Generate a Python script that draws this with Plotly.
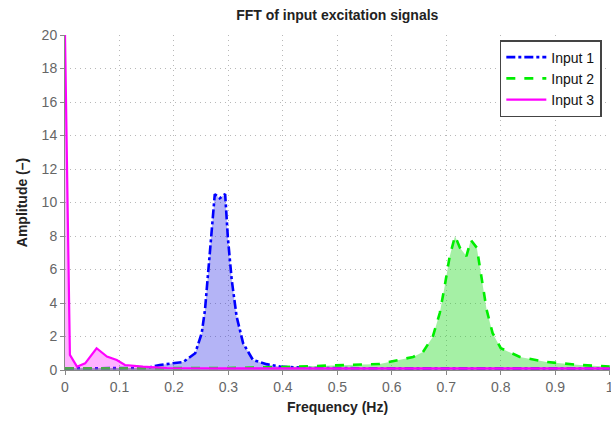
import plotly.graph_objects as go

# Spectral amplitude of each excitation input
freq1 = [0.0, 0.02, 0.05, 0.10, 0.15, 0.174, 0.20, 0.217, 0.239, 0.251, 0.257, 0.263, 0.270,
         0.275, 0.284, 0.294, 0.299, 0.306, 0.315, 0.327, 0.345, 0.370, 0.395, 0.45, 0.60, 0.80, 1.0]
amp1 = [0.1, 0.1, 0.1, 0.1, 0.12, 0.3, 0.4, 0.48, 1.0, 2.2, 3.6, 6.0, 8.5,
        10.5, 10.25, 10.5, 7.9, 5.4, 3.2, 1.6, 0.6, 0.35, 0.2, 0.12, 0.1, 0.1, 0.1]

freq2 = [0.0, 0.10, 0.20, 0.30, 0.40, 0.45, 0.50, 0.578, 0.639, 0.657, 0.675, 0.688, 0.697, 0.706,
         0.716, 0.725, 0.737, 0.745, 0.756, 0.765, 0.774, 0.785, 0.80, 0.835, 0.884, 0.945, 1.0]
amp2 = [0.1, 0.1, 0.1, 0.12, 0.18, 0.22, 0.28, 0.36, 0.78, 1.07, 1.97, 3.4, 5.0, 6.75,
        8.0, 7.3, 6.8, 7.76, 7.3, 5.55, 3.6, 2.2, 1.3, 0.78, 0.48, 0.3, 0.2]

freq3 = [0.0, 0.009, 0.022, 0.037, 0.058, 0.077, 0.095, 0.11, 0.143, 0.187, 0.30, 0.50, 0.70, 1.0]
amp3 = [20.0, 0.9, 0.2, 0.4, 1.3, 0.8, 0.6, 0.3, 0.2, 0.12, 0.1, 0.1, 0.1, 0.1]

x_ticks = [0, 0.1, 0.2, 0.3, 0.4, 0.5, 0.6, 0.7, 0.8, 0.9, 1]
x_labels = ["0", "0.1", "0.2", "0.3", "0.4", "0.5", "0.6", "0.7", "0.8", "0.9", "1"]
y_ticks = [0, 2, 4, 6, 8, 10, 12, 14, 16, 18, 20]

series = [
    ("Input 1", freq1, amp1, dict(color="#0000ff", width=2.6, dash="dashdot"), "rgba(40,40,230,0.35)"),
    ("Input 2", freq2, amp2, dict(color="#00ee00", width=2.6, dash="dash"), "rgba(40,220,40,0.42)"),
    ("Input 3", freq3, amp3, dict(color="#ff00ff", width=2.2, dash="solid"), "rgba(255,0,255,0.3)"),
]

fig = go.Figure()
for name, fx, fy, line, fill in series:
    # filled spectrum
    fig.add_trace(go.Scatter(x=fx, y=fy, name=name, mode="lines", line=line,
                             fill="tozeroy", fillcolor=fill,
                             legendgroup=name, showlegend=False))
    # line-only legend entry
    fig.add_trace(go.Scatter(x=[None], y=[None], name=name, mode="lines", line=line,
                             legendgroup=name, showlegend=True))

axis_font = dict(family="Liberation Sans, Arial, sans-serif", size=14, color="#666666")
grid_dash = "1px,4px"
fig.update_layout(
    width=611, height=423,
    margin=dict(l=65, r=1, t=35, b=53),
    paper_bgcolor="white", plot_bgcolor="white",
    font=dict(family="Liberation Sans, Arial, sans-serif", size=14, color="#333333"),
    title=dict(text="<b>FFT of input excitation signals</b>", x=0.552, xanchor="center",
               y=0.965, yanchor="middle", font=dict(size=14, color="#222222")),
    showlegend=True,
    legend=dict(x=0.985, y=0.985, xanchor="right", yanchor="top",
                bgcolor="white", bordercolor="#444444", borderwidth=1.5,
                font=dict(size=14, color="#111111"), tracegroupgap=0,
                itemwidth=40),
    xaxis=dict(range=[0, 1.0005], tickvals=x_ticks, ticktext=x_labels, tickfont=axis_font,
               ticklabeloverflow="allow", automargin=False,
               showgrid=True, gridcolor="#b8b8b8", griddash=grid_dash, gridwidth=1,
               showline=True, linecolor="#888888", ticks="outside", ticklen=4,
               tickcolor="#888888", zeroline=False,
               title=dict(text="<b>Frequency (Hz)</b>", standoff=8,
                          font=dict(size=14, color="#222222"))),
    yaxis=dict(range=[0, 20], tickvals=y_ticks, tickfont=axis_font,
               showgrid=True, gridcolor="#b8b8b8", griddash=grid_dash, gridwidth=1,
               showline=True, linecolor="#888888", ticks="outside", ticklen=4,
               tickcolor="#888888", zeroline=False,
               title=dict(text="<b>Amplitude (–)</b>", standoff=10,
                          font=dict(size=14, color="#222222"))),
)

fig.write_html("out.html")
